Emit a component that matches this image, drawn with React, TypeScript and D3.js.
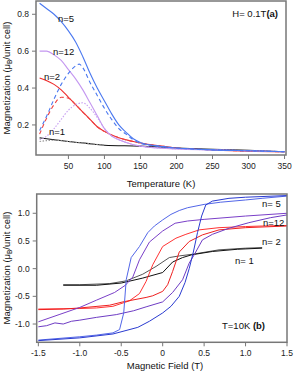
import React from "react";
import { scaleLinear, line, curveMonotoneX, curveLinear } from "d3";

// panel (a): M vs T, field cooled (solid) and zero-field cooled (dashed)
const tempTicks = [50, 100, 150, 200, 250, 300, 350];
const magTicksA = [0.2, 0.4, 0.6, 0.8];

const fcN5 = [[10,0.86],[20,0.83],[30,0.8],[40,0.76],[50,0.71],[60,0.65],[70,0.57],[80,0.48],[90,0.4],[100,0.33],[110,0.26],[120,0.2],[130,0.16],[140,0.125],[150,0.105],[175,0.085],[200,0.075],[250,0.065],[300,0.06],[350,0.055]];
const zfcN5 = [[10,0.17],[20,0.25],[30,0.34],[40,0.42],[50,0.48],[60,0.52],[65,0.53],[70,0.51],[80,0.43],[90,0.36],[100,0.29],[110,0.23],[120,0.18],[130,0.15],[140,0.12],[150,0.1],[175,0.085],[200,0.075],[250,0.065],[300,0.06],[350,0.055]];
const fcN12 = [[10,0.6],[20,0.6],[30,0.58],[40,0.55],[50,0.5],[60,0.45],[70,0.39],[80,0.32],[90,0.25],[100,0.18],[110,0.14],[120,0.12],[130,0.105],[150,0.085],[200,0.07],[250,0.065],[300,0.06],[350,0.055]];
const zfcN12 = [[10,0.12],[20,0.14],[30,0.18],[40,0.23],[50,0.28],[60,0.31],[70,0.32],[80,0.29],[90,0.24],[100,0.18],[110,0.14],[120,0.12],[130,0.105],[150,0.085],[200,0.07],[250,0.065],[300,0.06],[350,0.055]];
const fcN2 = [[10,0.455],[20,0.44],[30,0.42],[40,0.39],[50,0.35],[60,0.31],[70,0.27],[80,0.23],[90,0.19],[100,0.165],[110,0.145],[120,0.13],[140,0.11],[160,0.095],[180,0.085],[200,0.075],[250,0.065],[300,0.058],[350,0.055]];
const zfcN2 = [[10,0.15],[20,0.24],[30,0.31],[40,0.35],[50,0.345],[60,0.31],[70,0.27],[80,0.23],[90,0.19],[100,0.165],[110,0.145],[120,0.13],[140,0.11],[160,0.095],[180,0.085],[200,0.075],[250,0.065],[300,0.058],[350,0.055]];
const fcN1 = [[10,0.13],[30,0.12],[50,0.11],[75,0.1],[100,0.09],[150,0.085],[200,0.075],[250,0.068],[300,0.062],[350,0.055]];
const zfcN1 = [[10,0.11],[20,0.115],[30,0.117],[50,0.11],[75,0.1],[100,0.09]];

// panel (b): hysteresis loops at 10 K
const fieldTicks = [-1.5, -1.0, -0.5, 0, 0.5, 1.0, 1.5];
const magTicksB = [-1.0, -0.5, 0.0, 0.5, 1.0];

const downN5 = [[1.5,1.31],[1.2,1.27],[1.0,1.24],[0.7,1.2],[0.5,1.16],[0.3,1.1],[0.2,1.05],[0.1,0.98],[0,0.88],[-0.1,0.77],[-0.18,0.65],[-0.28,0.4],[-0.38,0.2],[-0.44,-0.2],[-0.47,-0.8],[-0.52,-1.1],[-0.6,-1.16],[-0.8,-1.2],[-1.0,-1.23],[-1.5,-1.29]];
const upN5 = [[-1.5,-1.3],[-1.0,-1.25],[-0.6,-1.18],[-0.3,-1.06],[-0.16,-0.95],[0,-0.8],[0.1,-0.68],[0.2,-0.5],[0.27,-0.25],[0.32,0.0],[0.37,0.3],[0.42,0.65],[0.47,0.95],[0.52,1.15],[0.6,1.22],[0.8,1.27],[1.0,1.29],[1.5,1.32]];
const downN12 = [[1.5,1.0],[1.0,0.95],[0.5,0.89],[0.3,0.86],[0.15,0.82],[0,0.68],[-0.16,0.48],[-0.28,0.16],[-0.36,-0.15],[-0.45,-0.3],[-0.58,-0.43],[-0.8,-0.57],[-1.0,-0.7],[-1.25,-0.83],[-1.5,-0.96]];
const upN12 = [[-1.5,-1.05],[-1.4,-1.03],[-1.3,-0.98],[-1.2,-1.0],[-1.1,-0.95],[-1.0,-0.93],[-0.8,-0.88],[-0.56,-0.83],[-0.35,-0.76],[-0.2,-0.69],[0,-0.6],[0.12,-0.43],[0.24,-0.2],[0.32,0.1],[0.38,0.25],[0.48,0.52],[0.6,0.62],[0.8,0.73],[1.04,0.83],[1.3,0.92],[1.5,0.97]];
const downN2 = [[1.5,0.78],[1.2,0.77],[1.0,0.76],[0.68,0.74],[0.44,0.7],[0.28,0.62],[0.16,0.55],[0,0.4],[-0.12,0.07],[-0.2,-0.23],[-0.28,-0.45],[-0.4,-0.58],[-0.6,-0.68],[-0.8,-0.71],[-1.0,-0.72],[-1.5,-0.73]];
const upN2 = [[-1.5,-0.74],[-1.2,-0.73],[-1.0,-0.71],[-0.64,-0.66],[-0.48,-0.6],[-0.2,-0.52],[-0.12,-0.49],[0,-0.41],[0.06,-0.29],[0.12,-0.05],[0.2,0.3],[0.32,0.49],[0.48,0.61],[0.68,0.7],[1.0,0.74],[1.5,0.77]];
const downN1 = [[1.2,0.38],[1.0,0.37],[0.68,0.34],[0.36,0.26],[0.2,0.23],[0.08,0.2],[-0.08,0.04],[-0.24,-0.1],[-0.44,-0.22],[-0.64,-0.27],[-1.0,-0.29],[-1.2,-0.29]];
const upN1 = [[-1.2,-0.3],[-0.8,-0.3],[-0.5,-0.26],[-0.24,-0.17],[0,-0.07],[0.12,0.12],[0.24,0.2],[0.35,0.25],[0.6,0.31],[0.9,0.35],[1.2,0.37]];

const W = 296;
const H = 372;
const font = "'Liberation Sans', Arial, sans-serif";

const xA = scaleLinear().domain([5, 352]).range([36, 286]);
const yA = scaleLinear().domain([0.037, 0.872]).range([155, 1]);
const xB = scaleLinear().domain([-1.52, 1.5]).range([36.7, 287]);
const yB = scaleLinear().domain([-1.33, 1.348]).range([342.3, 194]);

const lineA = line<number[]>().x((d) => xA(d[0])).y((d) => yA(d[1])).curve(curveMonotoneX);
const lineB = line<number[]>().x((d) => xB(d[0])).y((d) => yB(d[1])).curve(curveLinear);

const seriesA = [
  { data: fcN1, color: "#111", dash: null },
  { data: zfcN1, color: "#999", dash: "1.5,1.5" },
  { data: fcN2, color: "#ee2b2b", dash: null },
  { data: zfcN2, color: "#ee4444", dash: "4,3" },
  { data: fcN12, color: "#c497f0", dash: null },
  { data: zfcN12, color: "#c8a0f2", dash: "1.5,1.5" },
  { data: fcN5, color: "#4a78f0", dash: null },
  { data: zfcN5, color: "#4a78f0", dash: "4,3" },
];

const seriesB = [
  { data: downN1, color: "#555" },
  { data: upN1, color: "#111" },
  { data: downN2, color: "#ff3333" },
  { data: upN2, color: "#ee2020" },
  { data: downN12, color: "#7a3fc8" },
  { data: upN12, color: "#6e3cc4" },
  { data: downN5, color: "#5266e8" },
  { data: upN5, color: "#2a3bd0" },
];

const YLabel = ({ x, y }: { x: number; y: number }) => (
  <text transform={`translate(${x},${y}) rotate(-90)`} textAnchor="middle" fontSize={9.5} fill="#111">
    Magnetization (μ<tspan fontSize={6.5} dy={2}>B</tspan>
    <tspan dy={-2}>/unit cell)</tspan>
  </text>
);

const Frame = ({ x0, x1, y0, y1 }: { x0: number; x1: number; y0: number; y1: number }) => (
  <rect x={x0} y={y0} width={x1 - x0} height={y1 - y0} fill="none" stroke="#777" strokeWidth={1.5} />
);

const App = () => {
  const [a0, a1] = xA.range();
  const [b0, b1] = xB.range();
  return (
    <svg width={W} height={H} style={{ position: "absolute", left: 0, top: 0, background: "#fff" }} fontFamily={font}>
      {/* panel (a) */}
      <g>
        {seriesA.map((s, i) => (
          <path key={i} d={lineA(s.data) || ""} fill="none" stroke={s.color} strokeWidth={1.1} strokeDasharray={s.dash || undefined} />
        ))}
        <Frame x0={a0} x1={a1} y0={yA.range()[1]} y1={yA.range()[0]} />
        {tempTicks.map((t) => (
          <g key={t} transform={`translate(${xA(t)},155)`}>
            <line y2={4} stroke="#777" strokeWidth={1} />
            <text y={14} textAnchor="middle" fontSize={8.5} fill="#222">{t}</text>
          </g>
        ))}
        {magTicksA.map((m) => (
          <g key={m} transform={`translate(36,${yA(m)})`}>
            <line x2={-4} stroke="#777" strokeWidth={1} />
            <text x={-7} dy="0.35em" textAnchor="end" fontSize={8.5} fill="#222">{m.toFixed(1)}</text>
          </g>
        ))}
        <text x={161} y={187} textAnchor="middle" fontSize={9.5} fill="#111">Temperature (K)</text>
        <YLabel x={10} y={78} />
        <text x={58} y={22} fontSize={9.5} fill="#111">n=5</text>
        <text x={53} y={55} fontSize={9.5} fill="#111">n=12</text>
        <text x={44} y={80} fontSize={9.5} fill="#111">n=2</text>
        <text x={49} y={135} fontSize={9.5} fill="#111">n=1</text>
        <text x={278} y={17} textAnchor="end" fontSize={9.5} fill="#111">
          H= 0.1T<tspan fontWeight="bold">(a)</tspan>
        </text>
      </g>
      {/* panel (b) */}
      <g>
        {seriesB.map((s, i) => (
          <path key={i} d={lineB(s.data) || ""} fill="none" stroke={s.color} strokeWidth={1} />
        ))}
        <Frame x0={b0} x1={b1} y0={yB.range()[1]} y1={yB.range()[0]} />
        {fieldTicks.map((t) => (
          <g key={t} transform={`translate(${xB(t)},342.3)`}>
            <line y2={4} stroke="#777" strokeWidth={1} />
            <text y={14} textAnchor="middle" fontSize={8.5} fill="#222">{t === 0 ? "0" : t.toFixed(1)}</text>
          </g>
        ))}
        {magTicksB.map((m) => (
          <g key={m} transform={`translate(36.7,${yB(m)})`}>
            <line x2={-4} stroke="#777" strokeWidth={1} />
            <text x={-7} dy="0.35em" textAnchor="end" fontSize={8.5} fill="#222">{m.toFixed(1)}</text>
          </g>
        ))}
        <text x={165} y={369} textAnchor="middle" fontSize={9.5} fill="#111">Magnetic Field (T)</text>
        <YLabel x={10} y={268} />
        <text x={262} y={207} fontSize={9.5} fill="#111">n= 5</text>
        <text x={263} y={226} fontSize={9.5} fill="#111">n=12</text>
        <text x={262} y={245} fontSize={9.5} fill="#111">n= 2</text>
        <text x={235} y={264} fontSize={9.5} fill="#111">n= 1</text>
        <text x={222} y={329} fontSize={9.5} fill="#111">
          T=10K <tspan fontWeight="bold">(b)</tspan>
        </text>
      </g>
    </svg>
  );
};

export default App;
